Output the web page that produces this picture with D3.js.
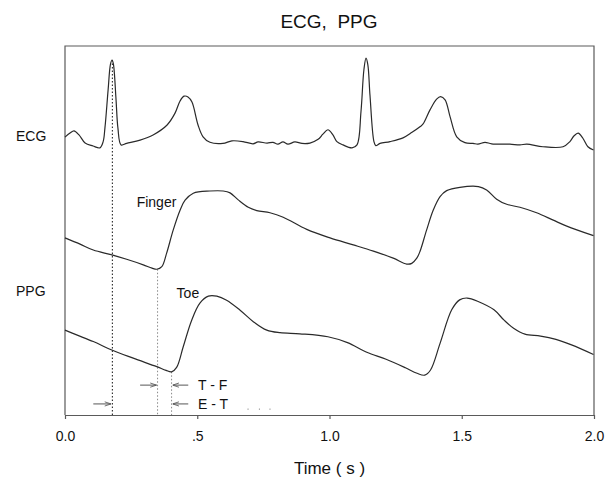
<!DOCTYPE html>
<html>
<head>
<meta charset="utf-8">
<script src="https://cdn.jsdelivr.net/npm/d3@7"></script>
<style>
    body { margin: 0; background: #fff; }
    svg { display: block; font-family: "Liberation Sans", Arial, Helvetica, sans-serif; }
</style>
</head>
<body>
<svg width="605" height="479"></svg>
<script>
// Traces as [time (s), amplitude (arbitrary units, 0 = bottom of panel)]
const ecg = [
    [0.000, 75.3], [0.019, 76.4], [0.034, 77.0], [0.053, 75.9], [0.076, 73.7], [0.106, 72.9],
    [0.132, 72.4], [0.144, 74.0], [0.151, 77.8], [0.163, 88.1], [0.172, 95.1], [0.178, 96.2],
    [0.183, 95.1], [0.193, 85.4], [0.200, 77.8], [0.212, 73.2], [0.233, 73.6], [0.284, 74.5],
    [0.333, 75.9], [0.386, 78.6], [0.416, 81.8], [0.435, 85.1], [0.450, 86.4], [0.465, 86.2],
    [0.480, 84.8], [0.503, 78.6], [0.522, 75.4], [0.548, 73.9], [0.597, 73.6], [0.631, 74.3],
    [0.673, 74.1], [0.711, 73.5], [0.730, 74.0], [0.764, 73.7], [0.786, 73.9], [0.805, 73.4],
    [0.824, 74.0], [0.843, 73.4], [0.869, 74.0], [0.896, 73.6], [0.926, 73.7], [0.957, 74.7],
    [0.975, 76.1], [0.994, 77.3], [1.013, 75.9], [1.028, 74.1], [1.051, 73.2], [1.085, 72.4],
    [1.104, 73.2], [1.119, 82.2], [1.130, 93.5], [1.138, 96.7], [1.145, 94.9], [1.153, 86.7],
    [1.168, 74.1], [1.175, 73.0], [1.191, 73.6], [1.229, 74.1], [1.278, 75.1], [1.312, 76.6],
    [1.342, 78.1], [1.353, 78.8], [1.380, 82.7], [1.405, 85.6], [1.420, 86.3], [1.437, 85.4],
    [1.456, 80.8], [1.481, 75.4], [1.512, 73.8], [1.543, 73.6], [1.561, 73.4], [1.588, 73.9],
    [1.613, 73.5], [1.682, 73.4], [1.720, 73.2], [1.746, 73.4], [1.807, 72.7], [1.883, 72.7],
    [1.909, 74.1], [1.924, 75.6], [1.940, 76.4], [1.958, 75.0], [1.977, 72.7], [1.998, 71.8]
];

const finger = [
    [0.000, 48.0], [0.057, 46.3], [0.107, 44.7], [0.177, 43.4], [0.233, 42.2], [0.296, 40.7],
    [0.329, 39.8], [0.347, 39.5], [0.366, 40.2], [0.384, 43.8], [0.409, 50.1], [0.435, 55.5],
    [0.454, 58.2], [0.485, 60.1], [0.548, 60.7], [0.598, 60.7], [0.624, 60.2], [0.655, 58.3],
    [0.693, 56.3], [0.725, 55.4], [0.775, 54.8], [0.825, 53.6], [0.914, 50.3], [1.002, 48.0],
    [1.090, 46.1], [1.166, 44.4], [1.241, 42.5], [1.292, 40.9], [1.311, 41.1], [1.330, 42.5],
    [1.342, 44.3], [1.367, 50.1], [1.392, 55.5], [1.418, 59.2], [1.443, 60.8], [1.493, 61.7],
    [1.563, 61.9], [1.594, 61.0], [1.632, 58.5], [1.670, 57.1], [1.720, 56.3], [1.783, 54.8],
    [1.846, 52.8], [1.897, 51.2], [1.998, 48.6]
];

const toe = [
    [0.000, 23.0], [0.044, 21.7], [0.107, 19.9], [0.177, 17.6], [0.258, 15.4], [0.347, 13.1],
    [0.382, 12.1], [0.403, 11.7], [0.422, 12.9], [0.447, 18.5], [0.479, 25.7], [0.510, 30.3],
    [0.542, 32.2], [0.574, 32.2], [0.611, 31.1], [0.662, 28.4], [0.712, 25.3], [0.763, 23.0],
    [0.813, 22.3], [0.888, 22.0], [0.994, 21.2], [1.068, 19.6], [1.141, 17.0], [1.214, 15.1],
    [1.287, 12.8], [1.331, 11.3], [1.360, 10.8], [1.382, 12.2], [1.418, 19.4], [1.462, 28.5],
    [1.492, 31.2], [1.520, 31.7], [1.564, 30.7], [1.622, 28.5], [1.660, 25.7], [1.696, 23.5],
    [1.739, 21.9], [1.798, 21.4], [1.856, 20.5], [1.915, 19.0], [1.998, 16.4]
];

// x axis ticks
const tickValues = [0, 0.5, 1.0, 1.5, 2.0];
const tickLabels = ['0.0', '.5', '1.0', '1.5', '2.0'];

// Marker lines: [time, top amplitude]  (ECG R peak, finger foot, toe foot)
const markers = [[0.179, 96.2], [0.350, 39.5], [0.403, 11.7]];

// Interval annotations
const intervals = [
    { label: 'T - F', level: 8.1, from: 0.284, to: 0.350, back: 0.466, backTo: 0.403 },
    { label: 'E - T', level: 3.0, from: 0.107, to: 0.178, back: 0.466, backTo: 0.403 }
];
const trailingDots = [0.692, 0.735, 0.775];

class Plot {
    constructor() {
        this.svg = d3.select('svg');
        this.svgWidth = 605;
        this.svgHeight = 479;
        this.margin = { top: 46, right: 11, bottom: 64, left: 65 };
        this.innerWidth = this.svgWidth - this.margin.left - this.margin.right;
        this.innerHeight = this.svgHeight - this.margin.top - this.margin.bottom;
        this.ink = '#2a2a2a';
        this.frame = '#5a5a5a';
    }

    createPlot = () => {
        this.xScale = d3.scaleLinear().domain([0, 2]).range([0, this.innerWidth]);
        this.yScale = d3.scaleLinear().domain([0, 100]).range([this.innerHeight, 0]);

        this.g = this.svg.append('g')
            .attr('transform', `translate(${this.margin.left},${this.margin.top})`);

        this.setFrame();
        this.setXAxis();
        this.setMarkers();
        this.setTraces();
        this.setIntervals();
        this.setLabels();
    }

    setFrame = () => {
        // top, left and right sides; the bottom is the axis line
        this.g.append('path')
            .attr('d', `M0,${this.innerHeight}V0H${this.innerWidth}V${this.innerHeight}`)
            .attr('fill', 'none')
            .attr('stroke', this.frame)
            .attr('stroke-width', 1.2);
    }

    setXAxis = () => {
        const xAxis = d3.axisBottom(this.xScale)
            .tickValues(tickValues)
            .tickFormat((d, i) => tickLabels[i])
            .tickSizeInner(4)
            .tickSizeOuter(0)
            .tickPadding(12);

        const ax = this.g.append('g')
            .attr('transform', `translate(0,${this.innerHeight})`)
            .call(xAxis);
        ax.select('.domain').attr('stroke', this.frame).attr('stroke-width', 1.2);
        ax.selectAll('.tick line').attr('stroke', this.frame).attr('stroke-width', 1.2);
        ax.selectAll('.tick text')
            .attr('fill', '#111')
            .style('font-size', '14px')
            .style('font-family', '"Liberation Sans", Arial, sans-serif');

        this.svg.append('text')
            .attr('x', this.margin.left + this.xScale(1))
            .attr('y', 474)
            .attr('text-anchor', 'middle')
            .attr('fill', '#111')
            .style('font-size', '17px')
            .text('Time ( s )');
    }

    setMarkers = () => {
        this.g.selectAll('.marker')
            .data(markers)
            .join('line')
            .attr('class', 'marker')
            .attr('x1', d => this.xScale(d[0]))
            .attr('x2', d => this.xScale(d[0]))
            .attr('y1', d => this.yScale(d[1]))
            .attr('y2', this.yScale(0))
            .attr('stroke', (d, i) => i === 0 ? '#111' : '#888')
            .attr('stroke-width', 1)
            .attr('stroke-dasharray', '1.5,2');
    }

    setTraces = () => {
        const line = d3.line()
            .x(d => this.xScale(d[0]))
            .y(d => this.yScale(d[1]))
            .curve(d3.curveCatmullRom.alpha(0.5));

        this.g.selectAll('.trace')
            .data([ecg, finger, toe])
            .join('path')
            .attr('class', 'trace')
            .attr('d', line)
            .attr('fill', 'none')
            .attr('stroke', this.ink)
            .attr('stroke-width', 1.2);
    }

    setIntervals = () => {
        // open arrowhead
        this.svg.append('defs').append('marker')
            .attr('id', 'head')
            .attr('viewBox', '0 0 10 10')
            .attr('refX', 10).attr('refY', 5)
            .attr('markerWidth', 7).attr('markerHeight', 7)
            .attr('markerUnits', 'userSpaceOnUse')
            .attr('orient', 'auto')
            .append('path')
            .attr('d', 'M1,2L10,5L1,8')
            .attr('fill', 'none')
            .attr('stroke', '#555')
            .attr('stroke-width', 1.2);

        const arrows = [];
        intervals.forEach(d => {
            arrows.push([d.from, d.to - 0.004, d.level]);
            arrows.push([d.back, d.backTo + 0.004, d.level]);
        });

        this.g.selectAll('.arrow')
            .data(arrows)
            .join('line')
            .attr('class', 'arrow')
            .attr('x1', d => this.xScale(d[0]))
            .attr('x2', d => this.xScale(d[1]))
            .attr('y1', d => this.yScale(d[2]))
            .attr('y2', d => this.yScale(d[2]))
            .attr('stroke', '#555')
            .attr('stroke-width', 1)
            .attr('marker-end', 'url(#head)');

        this.g.selectAll('.ilabel')
            .data(intervals)
            .join('text')
            .attr('class', 'ilabel')
            .attr('x', d => this.xScale(0.503))
            .attr('y', d => this.yScale(d.level))
            .attr('dy', '0.35em')
            .attr('fill', '#111')
            .style('font-size', '14px')
            .text(d => d.label);

        this.g.selectAll('.tdot')
            .data(trailingDots)
            .join('circle')
            .attr('class', 'tdot')
            .attr('cx', d => this.xScale(d))
            .attr('cy', this.yScale(1.6))
            .attr('r', 0.6)
            .attr('fill', '#777');
    }

    setLabels = () => {
        this.svg.append('text')
            .attr('x', 329)
            .attr('y', 28)
            .attr('text-anchor', 'middle')
            .attr('fill', '#111')
            .style('font-size', '19px')
            .style('white-space', 'pre')
            .text('ECG,  PPG');

        const side = [['ECG', 75.5], ['PPG', 33.5]];
        this.svg.selectAll('.side')
            .data(side)
            .join('text')
            .attr('class', 'side')
            .attr('x', 16)
            .attr('y', d => this.margin.top + this.yScale(d[1]))
            .attr('dy', '0.35em')
            .attr('fill', '#111')
            .style('font-size', '14px')
            .text(d => d[0]);

        const traceLabels = [['Finger', 0.271, 57.8], ['Toe', 0.422, 33.0]];
        this.g.selectAll('.tlabel')
            .data(traceLabels)
            .join('text')
            .attr('class', 'tlabel')
            .attr('x', d => this.xScale(d[1]))
            .attr('y', d => this.yScale(d[2]))
            .attr('dy', '0.35em')
            .attr('fill', '#111')
            .style('font-size', '14px')
            .text(d => d[0]);
    }
}

new Plot().createPlot();
</script>
</body>
</html>
